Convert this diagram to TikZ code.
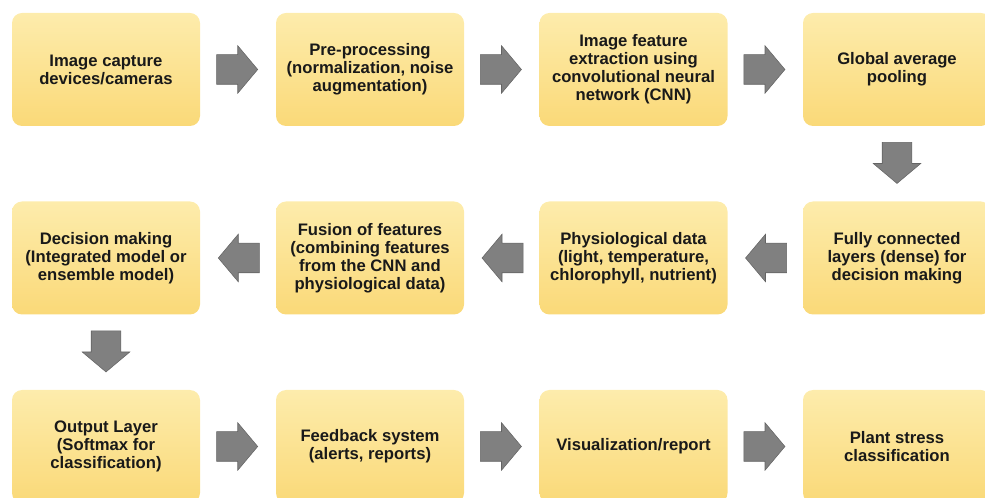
\documentclass[tikz,border=0pt]{standalone}
\usepackage{fontspec}
\setmainfont{Liberation Sans}
\usetikzlibrary{shapes.arrows,calc}
\definecolor{boxtop}{RGB}{253,236,172}
\definecolor{boxbot}{RGB}{250,217,120}
\definecolor{arrfill}{RGB}{128,128,128}
\definecolor{arrline}{RGB}{100,100,100}

\begin{document}
\begin{tikzpicture}
  [x=0.75pt,y=-0.75pt,
   stage/.style={rectangle,rounded corners=7.5pt,top color=boxtop,bottom color=boxbot,
     minimum width=141pt,minimum height=84.75pt,align=center,
     font=\bfseries\fontsize{12.5}{13.5}\selectfont,text=black!90},
   flow/.style={single arrow,fill=arrfill,draw=arrline,line width=0.4pt,
     minimum height=30.75pt,minimum width=35.25pt,inner xsep=0pt,inner ysep=10.875pt,
     single arrow head extend=6.75pt,single arrow tip angle=100,single arrow head indent=0pt}]

  \useasboundingbox (0,0) rectangle (985,498);
  \clip (0,0) rectangle (985,498);

  % first row
  \node[stage] (n1) at (106,69.5)   {Image capture\\devices/cameras};
  \node[stage] (n2) at (370,69.5)   {Pre-processing\\(normalization, noise\\augmentation)};
  \node[stage] (n3) at (633.5,69.5) {Image feature\\extraction using\\convolutional neural\\network (CNN)};
  \node[stage] (n4) at (897,69.5)   {Global average\\pooling};

  % second row
  \node[stage] (n5) at (897,258)    {Fully connected\\layers (dense) for\\decision making};
  \node[stage] (n6) at (633.5,258)  {Physiological data\\(light, temperature,\\chlorophyll, nutrient)};
  \node[stage] (n7) at (370,258)    {Fusion of features\\(combining features\\from the CNN and\\physiological data)};
  \node[stage] (n8) at (106,258)    {Decision making\\(Integrated model or\\ensemble model)};

  % third row
  \node[stage] (n9)  at (106,446.5)   {Output Layer\\(Softmax for\\classification)};
  \node[stage] (n10) at (370,446.5)   {Feedback system\\(alerts, reports)};
  \node[stage] (n11) at (633.5,446.5) {Visualization/report};
  \node[stage] (n12) at (897,446.5)   {Plant stress\\classification};

  \foreach \from/\to/\dir in {n1/n2/0,n2/n3/0,n3/n4/0,n4/n5/-90,n5/n6/180,n6/n7/180,
                              n7/n8/180,n8/n9/-90,n9/n10/0,n10/n11/0,n11/n12/0}
    \node[flow,rotate=\dir,xshift=-5.25pt] (a-\from) at ($(\from)!0.5!(\to)$) {};

\end{tikzpicture}
\end{document}
